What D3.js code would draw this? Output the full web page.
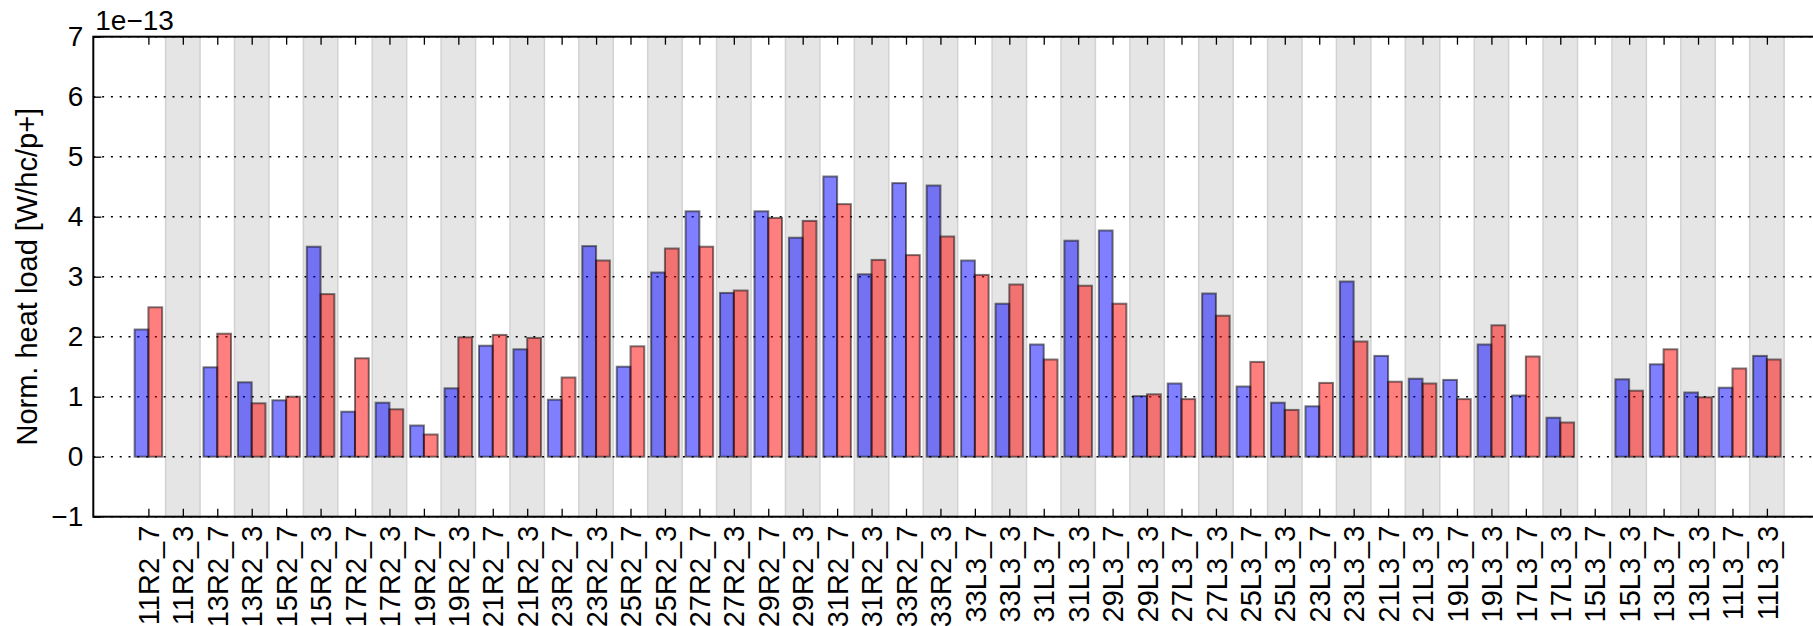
<!DOCTYPE html>
<html>
<head>
<meta charset="utf-8">
<script src="https://cdn.jsdelivr.net/npm/d3@7"></script>
<style>
    body { margin: 0; background: #fff; }
    text { font-family: "Liberation Sans", Arial, sans-serif; fill: #000; }
</style>
</head>
<body>
<div id="chart"></div>
<script>
// cells along the ring, in plotting order
const categories = [
    "11R2_7", "11R2_3", "13R2_7", "13R2_3", "15R2_7", "15R2_3", "17R2_7", "17R2_3",
    "19R2_7", "19R2_3", "21R2_7", "21R2_3", "23R2_7", "23R2_3", "25R2_7", "25R2_3",
    "27R2_7", "27R2_3", "29R2_7", "29R2_3", "31R2_7", "31R2_3", "33R2_7", "33R2_3",
    "33L3_7", "33L3_3", "31L3_7", "31L3_3", "29L3_7", "29L3_3", "27L3_7", "27L3_3",
    "25L3_7", "25L3_3", "23L3_7", "23L3_3", "21L3_7", "21L3_3", "19L3_7", "19L3_3",
    "17L3_7", "17L3_3", "15L3_7", "15L3_3", "13L3_7", "13L3_3", "11L3_7", "11L3_3"
];

// heat load in units of 1e-13 W/hc/p+ (null = no measurement)
const blueVals = [
    2.12, null, 1.49, 1.24, 0.94, 3.50, 0.75, 0.90,
    0.52, 1.14, 1.85, 1.79, 0.95, 3.51, 1.50, 3.07,
    4.09, 2.73, 4.09, 3.65, 4.67, 3.04, 4.56, 4.52,
    3.27, 2.55, 1.87, 3.60, 3.77, 1.01, 1.22, 2.72,
    1.17, 0.90, 0.84, 2.92, 1.68, 1.30, 1.28, 1.87,
    1.02, 0.65, null, 1.29, 1.54, 1.07, 1.15, 1.68
];
const redVals = [
    2.49, null, 2.05, 0.89, 1.00, 2.71, 1.64, 0.79,
    0.37, 1.99, 2.03, 1.98, 1.32, 3.27, 1.84, 3.47,
    3.50, 2.77, 3.98, 3.93, 4.21, 3.28, 3.36, 3.67,
    3.03, 2.87, 1.62, 2.85, 2.55, 1.04, 0.96, 2.35,
    1.58, 0.78, 1.23, 1.92, 1.25, 1.22, 0.96, 2.19,
    1.67, 0.57, null, 1.10, 1.79, 0.99, 1.47, 1.62
];

const yTicks = [-1, 0, 1, 2, 3, 4, 5, 6, 7];

const width = 1813, height = 626;
const plotL = 93.3, plotT = 36.7, plotB = 516.7, plotR = 1822;
const barW = 0.4;

const svg = d3.select("#chart").append("svg")
    .attr("width", width).attr("height", height);

const x = d3.scaleLinear().domain([-1.6, 48.6]).range([plotL, plotR]);
const y = d3.scaleLinear().domain([-1, 7]).range([plotB, plotT]);

const idx = d3.range(categories.length);

// grey bands behind every second cell
svg.append("g")
    .selectAll("rect")
    .data(idx.filter(i => i % 2 === 1))
    .join("rect")
    .attr("x", i => x(i - 0.5))
    .attr("y", plotT)
    .attr("width", x(1) - x(0))
    .attr("height", plotB - plotT)
    .attr("fill", "#e5e5e5")
    .attr("stroke", "#d2d2d2")
    .attr("stroke-width", 1.5);

// dotted horizontal grid
svg.append("g")
    .selectAll("line")
    .data(yTicks)
    .join("line")
    .attr("x1", plotL).attr("x2", plotR)
    .attr("y1", d => y(d)).attr("y2", d => y(d))
    .attr("stroke", "#000")
    .attr("stroke-width", 1.6)
    .attr("stroke-dasharray", "2,6.8");

function drawBars(vals, color, offset) {
    svg.append("g")
        .selectAll("rect")
        .data(idx.filter(i => vals[i] != null))
        .join("rect")
        .attr("x", i => x(i + offset))
        .attr("y", i => y(vals[i]))
        .attr("width", x(barW) - x(0))
        .attr("height", i => y(0) - y(vals[i]))
        .attr("fill", color)
        .attr("fill-opacity", 0.5)
        .attr("stroke", "rgba(0,0,0,0.5)")
        .attr("stroke-width", 2);
}
drawBars(blueVals, "#0000ff", -barW);
drawBars(redVals, "#ff0000", 0);

// axes with inward ticks
const xAxisB = svg.append("g")
    .attr("transform", `translate(0,${plotB})`)
    .call(d3.axisBottom(x).tickValues(idx).tickFormat(i => categories[i]).tickSize(-8).tickPadding(0));
xAxisB.select(".domain").remove();
xAxisB.selectAll("line").attr("stroke-width", 1.3);
xAxisB.selectAll("text")
    .attr("font-size", 29)
    .attr("text-anchor", "end")
    .attr("transform", "rotate(-90)")
    .attr("x", -9)
    .attr("y", 0)
    .attr("dy", "0.35em");

const xAxisT = svg.append("g")
    .attr("transform", `translate(0,${plotT})`)
    .call(d3.axisTop(x).tickValues(idx).tickFormat("").tickSize(-8));
xAxisT.select(".domain").remove();
xAxisT.selectAll("line").attr("stroke-width", 1.3);

const yAxis = svg.append("g")
    .attr("transform", `translate(${plotL},0)`)
    .call(d3.axisLeft(y).tickValues(yTicks).tickFormat(d3.format("d")).tickSize(-8).tickPadding(10));
yAxis.select(".domain").remove();
yAxis.selectAll("line").attr("stroke-width", 1.3);
yAxis.selectAll("text").attr("font-size", 28);

// spines
svg.append("rect")
    .attr("x", plotL).attr("y", plotT)
    .attr("width", plotR - plotL).attr("height", plotB - plotT)
    .attr("fill", "none")
    .attr("stroke", "#000")
    .attr("stroke-width", 2);

svg.append("text")
    .attr("x", plotL + 2).attr("y", 30)
    .attr("font-size", 28)
    .text("1e\u221213");

svg.append("text")
    .attr("transform", `translate(37,${(plotT + plotB) / 2}) rotate(-90)`)
    .attr("text-anchor", "middle")
    .attr("font-size", 29)
    .text("Norm. heat load [W/hc/p+]");
</script>
</body>
</html>
